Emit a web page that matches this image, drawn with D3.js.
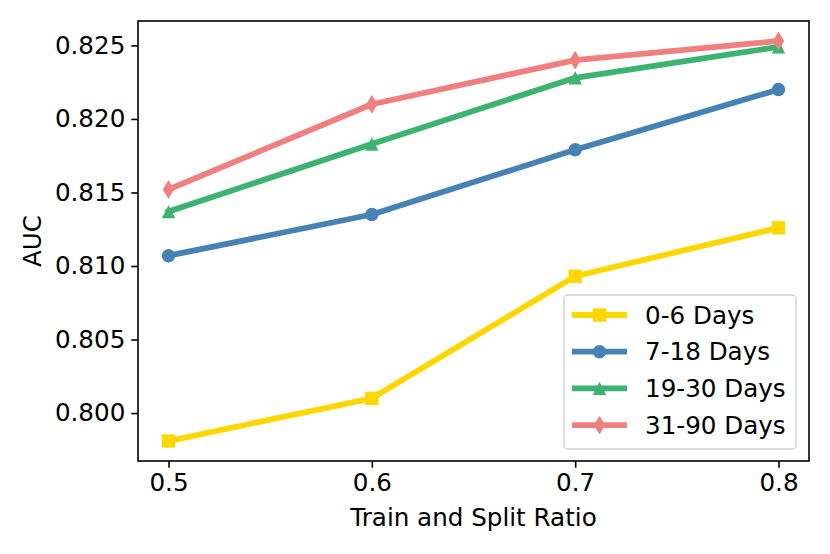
<!DOCTYPE html>
<html>
<head>
<meta charset="utf-8">
<script src="https://cdn.jsdelivr.net/npm/d3@7"></script>
<style>
  body { margin: 0; background: #fff; }
  text { font-family: "DejaVu Sans", sans-serif; }
</style>
</head>
<body>
<div class="canvas"></div>
<script>
// data
const ratios = [0.5, 0.6, 0.7, 0.8];
const xTicks = [0.5, 0.6, 0.7, 0.8];
const yTicks = [0.800, 0.805, 0.810, 0.815, 0.820, 0.825];
const seriesNames = ['0-6 Days', '7-18 Days', '19-30 Days', '31-90 Days'];
const days0to6 = [0.7981, 0.8010, 0.8093, 0.8126];
const days7to18 = [0.8107, 0.8135, 0.8179, 0.8220];
const days19to30 = [0.8137, 0.8183, 0.8228, 0.8249];
const days31to90 = [0.8152, 0.8210, 0.8240, 0.8253];

const colors = ['#FFD700', '#4682B4', '#3CB371', '#F08080'];
const markers = ['square', 'circle', 'triangle', 'diamond'];
const allValues = [days0to6, days7to18, days19to30, days31to90];

const series = seriesNames.map((name, i) => ({
  name,
  color: colors[i],
  marker: markers[i],
  values: ratios.map((r, j) => ({x: r, y: allValues[i][j]}))
}));

const width = 830, height = 554;
const margin = {top: 21, right: 21, bottom: 93, left: 138};
const graphWidth = width - margin.left - margin.right;
const graphHeight = height - margin.top - margin.bottom;

const svg = d3.select('.canvas')
  .append('svg')
  .attr('width', width)
  .attr('height', height);

const graph = svg.append('g')
  .attr('transform', `translate(${margin.left},${margin.top})`);

// matplotlib style 5% margins
const xMin = d3.min(ratios), xMax = d3.max(ratios);
const xPad = (xMax - xMin) * 0.05;
const flat = allValues.flat();
const yMin = d3.min(flat), yMax = d3.max(flat);
const yPad = (yMax - yMin) * 0.05;

const x = d3.scaleLinear()
  .domain([xMin - xPad, xMax + xPad])
  .range([0, graphWidth]);
const y = d3.scaleLinear()
  .domain([yMin - yPad, yMax + yPad])
  .range([graphHeight, 0]);

const fontSize = 24.6;

// axes
const xAxis = d3.axisBottom(x)
  .tickValues(xTicks)
  .tickSize(6.7)
  .tickPadding(6)
  .tickFormat(d3.format('.1f'));
const yAxis = d3.axisLeft(y)
  .tickValues(yTicks)
  .tickSize(6.7)
  .tickPadding(6)
  .tickFormat(d3.format('.3f'));

const xAxisGroup = graph.append('g')
  .attr('transform', `translate(0, ${graphHeight})`)
  .call(xAxis);
const yAxisGroup = graph.append('g').call(yAxis);

[xAxisGroup, yAxisGroup].forEach(g => {
  g.select('.domain').remove();
  g.selectAll('line').attr('stroke', '#000').attr('stroke-width', 1.6);
  g.selectAll('text')
    .attr('font-size', fontSize + 'px')
    .attr('font-family', '"DejaVu Sans", sans-serif')
    .attr('fill', '#000');
});

// frame
graph.append('rect')
  .attr('width', graphWidth)
  .attr('height', graphHeight)
  .attr('fill', 'none')
  .attr('stroke', '#000')
  .attr('stroke-width', 1.6);

// axis labels
svg.append('text')
  .attr('x', margin.left + graphWidth / 2)
  .attr('y', 526)
  .attr('text-anchor', 'middle')
  .attr('font-size', fontSize + 'px')
  .text('Train and Split Ratio');

svg.append('text')
  .attr('transform', `translate(41, ${margin.top + graphHeight / 2}) rotate(-90)`)
  .attr('text-anchor', 'middle')
  .attr('font-size', fontSize + 'px')
  .text('AUC');

// marker shapes, size in px
const markerPath = (type, s) => {
  const h = s / 2;
  switch (type) {
    case 'square':
      return `M${-h},${-h}H${h}V${h}H${-h}Z`;
    case 'circle':
      return `M${h},0A${h},${h} 0 1,1 ${-h},0A${h},${h} 0 1,1 ${h},0Z`;
    case 'triangle':
      return `M0,${-h}L${h},${h}L${-h},${h}Z`;
    case 'diamond': {
      const dh = h * 1.414, dw = dh * 0.6;
      return `M0,${-dh}L${dw},0L0,${dh}L${-dw},0Z`;
    }
  }
};

const markerSize = 13.4;
const line = d3.line()
  .x(d => x(d.x))
  .y(d => y(d.y));

const seriesGroups = graph.selectAll('g.series')
  .data(series)
  .enter()
  .append('g')
  .attr('class', 'series');

seriesGroups.append('path')
  .attr('d', d => line(d.values))
  .attr('fill', 'none')
  .attr('stroke', d => d.color)
  .attr('stroke-width', 5.8)
  .attr('stroke-linejoin', 'round')
  .attr('stroke-linecap', 'square');

seriesGroups.each(function(s) {
  d3.select(this).selectAll('path.marker')
    .data(s.values)
    .enter()
    .append('path')
    .attr('class', 'marker')
    .attr('transform', d => `translate(${x(d.x)},${y(d.y)})`)
    .attr('d', markerPath(s.marker, markerSize))
    .attr('fill', s.color);
});

// legend
const legend = svg.append('g')
  .attr('transform', 'translate(564, 295)');

legend.append('rect')
  .attr('width', 232)
  .attr('height', 154)
  .attr('rx', 4)
  .attr('fill', '#fff')
  .attr('fill-opacity', 0.8)
  .attr('stroke', '#d0d0d0')
  .attr('stroke-width', 1.3);

const rowStep = 36.7;
const items = legend.selectAll('g.item')
  .data(series)
  .enter()
  .append('g')
  .attr('class', 'item')
  .attr('transform', (d, i) => `translate(0, ${20 + i * rowStep})`);

items.append('line')
  .attr('x1', 8).attr('x2', 63)
  .attr('stroke', d => d.color)
  .attr('stroke-width', 5.8);

items.append('path')
  .attr('transform', 'translate(35.5,0)')
  .attr('d', d => markerPath(d.marker, markerSize))
  .attr('fill', d => d.color);

items.append('text')
  .attr('x', 81)
  .attr('dy', '0.35em')
  .attr('font-size', fontSize + 'px')
  .text(d => d.name);
</script>
</body>
</html>
